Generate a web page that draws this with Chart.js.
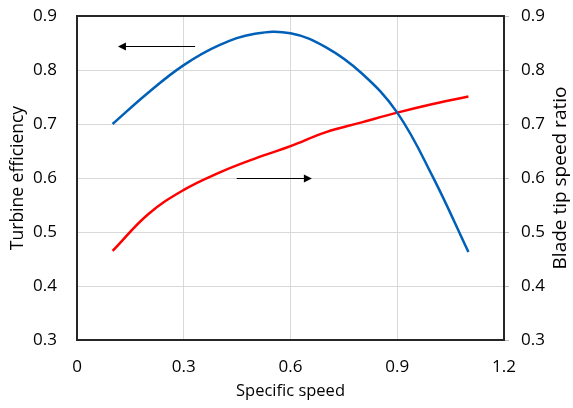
<!DOCTYPE html>
<html>
<head>
<meta charset="utf-8">
<script src="https://cdn.jsdelivr.net/npm/chart.js@4.4.0/dist/chart.umd.min.js"></script>
<style>
  html, body { margin: 0; padding: 0; background: #fff; }
  #wrap { width: 573px; height: 408px; }
</style>
</head>
<body>
<div id="wrap"><canvas id="LineChart"></canvas></div>
<script>
// values
const specificSpeed = [0.1, 0.2, 0.3, 0.4, 0.5, 0.6, 0.7, 0.8, 0.9, 1.0, 1.1];
const efficiency = [0.700, 0.758, 0.809, 0.846, 0.867, 0.868, 0.842, 0.794, 0.721, 0.602, 0.463];
const tipSpeedRatio = [0.465, 0.533, 0.578, 0.610, 0.636, 0.659, 0.685, 0.703, 0.721, 0.737, 0.751];
const xTicks = [0, 0.3, 0.6, 0.9, 1.2];
const yTicks = [0.3, 0.4, 0.5, 0.6, 0.7, 0.8, 0.9];

// arrows: [xFrom, xTo, y] in data units of the axis they point to
const leftArrow = [0.332, 0.115, 0.844];
const rightArrow = [0.449, 0.660, 0.600];

const fontFamily = "'Open Sans', sans-serif";
const LineCanvas = document.getElementById("LineChart");

function toPoints(xs, ys) {
  return xs.map((x, i) => ({ x: x, y: ys[i] }));
}

//Frame, arrows and right axis title
const framePlugin = {
  id: "frame",
  afterDatasetsDraw(chart) {
    const ctx = chart.ctx;
    const a = chart.chartArea;
    const xs = chart.scales.x;
    const yl = chart.scales.y;
    const yr = chart.scales.y2;

    function arrow(x1, x2, y, yScale) {
      const px1 = xs.getPixelForValue(x1);
      const px2 = xs.getPixelForValue(x2);
      const py = Math.round(yScale.getPixelForValue(y)) + 0.5;
      const dir = px2 > px1 ? 1 : -1;
      ctx.save();
      ctx.strokeStyle = "#000";
      ctx.fillStyle = "#000";
      ctx.lineWidth = 1;
      ctx.beginPath();
      ctx.moveTo(px1, py);
      ctx.lineTo(px2 - dir * 6, py);
      ctx.stroke();
      ctx.beginPath();
      ctx.moveTo(px2, py);
      ctx.lineTo(px2 - dir * 8, py - 4);
      ctx.lineTo(px2 - dir * 8, py + 4);
      ctx.closePath();
      ctx.fill();
      ctx.restore();
    }

    arrow(leftArrow[0], leftArrow[1], leftArrow[2], yl);
    arrow(rightArrow[0], rightArrow[1], rightArrow[2], yr);

    ctx.save();
    ctx.strokeStyle = "#262626";
    ctx.lineWidth = 2;
    ctx.strokeRect(a.left, a.top, a.right - a.left, a.bottom - a.top);
    ctx.restore();

    // right title reads bottom-to-top like the left one
    ctx.save();
    ctx.translate(561, (a.top + a.bottom) / 2);
    ctx.rotate(-Math.PI / 2);
    ctx.fillStyle = "#000";
    ctx.font = "19px " + fontFamily;
    ctx.textAlign = "center";
    ctx.textBaseline = "middle";
    ctx.fillText("Blade tip speed ratio", 0, 0);
    ctx.restore();
  },
};

const chartData = {
  datasets: [
    {
      label: "Turbine efficiency",
      data: toPoints(specificSpeed, efficiency),
      borderColor: "#0060b8",
      borderWidth: 2.5,
      pointRadius: 0,
      tension: 0.4,
      yAxisID: "y",
    },
    {
      label: "Blade tip speed ratio",
      data: toPoints(specificSpeed, tipSpeedRatio),
      borderColor: "#ff0000",
      borderWidth: 2.5,
      pointRadius: 0,
      tension: 0.4,
      yAxisID: "y2",
    },
  ],
};

const tickFont = { family: fontFamily, size: 17 };

new Chart(LineCanvas.getContext("2d"), {
  type: "line",
  data: chartData,
  plugins: [framePlugin],
  options: {
    responsive: true,
    maintainAspectRatio: false,
    animation: false,
    layout: { padding: { top: 16, left: 0, right: 0, bottom: 0 } },
    plugins: { legend: { display: false }, tooltip: { enabled: false } },
    scales: {
      x: {
        type: "linear",
        min: 0,
        max: 1.2,
        afterBuildTicks: (scale) => {
          scale.ticks = xTicks.map((v) => ({ value: v }));
        },
        afterFit: (scale) => {
          scale.height = 68;
        },
        grid: { color: "#d9d9d9", drawTicks: false },
        border: { display: false },
        ticks: { color: "#000", font: tickFont, padding: 17 },
        title: {
          display: true,
          text: "Specific speed",
          color: "#000",
          font: { family: fontFamily, size: 16.5 },
          padding: { top: 4, bottom: 7 },
        },
      },
      y: {
        position: "left",
        min: 0.3,
        max: 0.9,
        afterBuildTicks: (scale) => {
          scale.ticks = yTicks.map((v) => ({ value: v }));
        },
        afterFit: (scale) => {
          scale.width = 77;
          scale.paddingTop = 10;
          scale.paddingBottom = 10;
        },
        grid: { color: "#d9d9d9", drawTicks: false },
        border: { display: false },
        ticks: { color: "#000", font: tickFont, padding: 20, callback: (v) => v.toFixed(1) },
        title: {
          display: true,
          text: "Turbine efficiency",
          color: "#000",
          font: { family: fontFamily, size: 17.5 },
          padding: { top: 8, bottom: 2 },
        },
      },
      y2: {
        position: "right",
        min: 0.3,
        max: 0.9,
        afterBuildTicks: (scale) => {
          scale.ticks = yTicks.map((v) => ({ value: v }));
        },
        afterFit: (scale) => {
          scale.width = 69;
          scale.paddingTop = 10;
          scale.paddingBottom = 10;
        },
        grid: { drawOnChartArea: false, tickColor: "#bfbfbf", tickLength: 5 },
        border: { display: false },
        ticks: { color: "#000", font: tickFont, padding: 12, callback: (v) => v.toFixed(1) },
      },
    },
  },
});
</script>
</body>
</html>
